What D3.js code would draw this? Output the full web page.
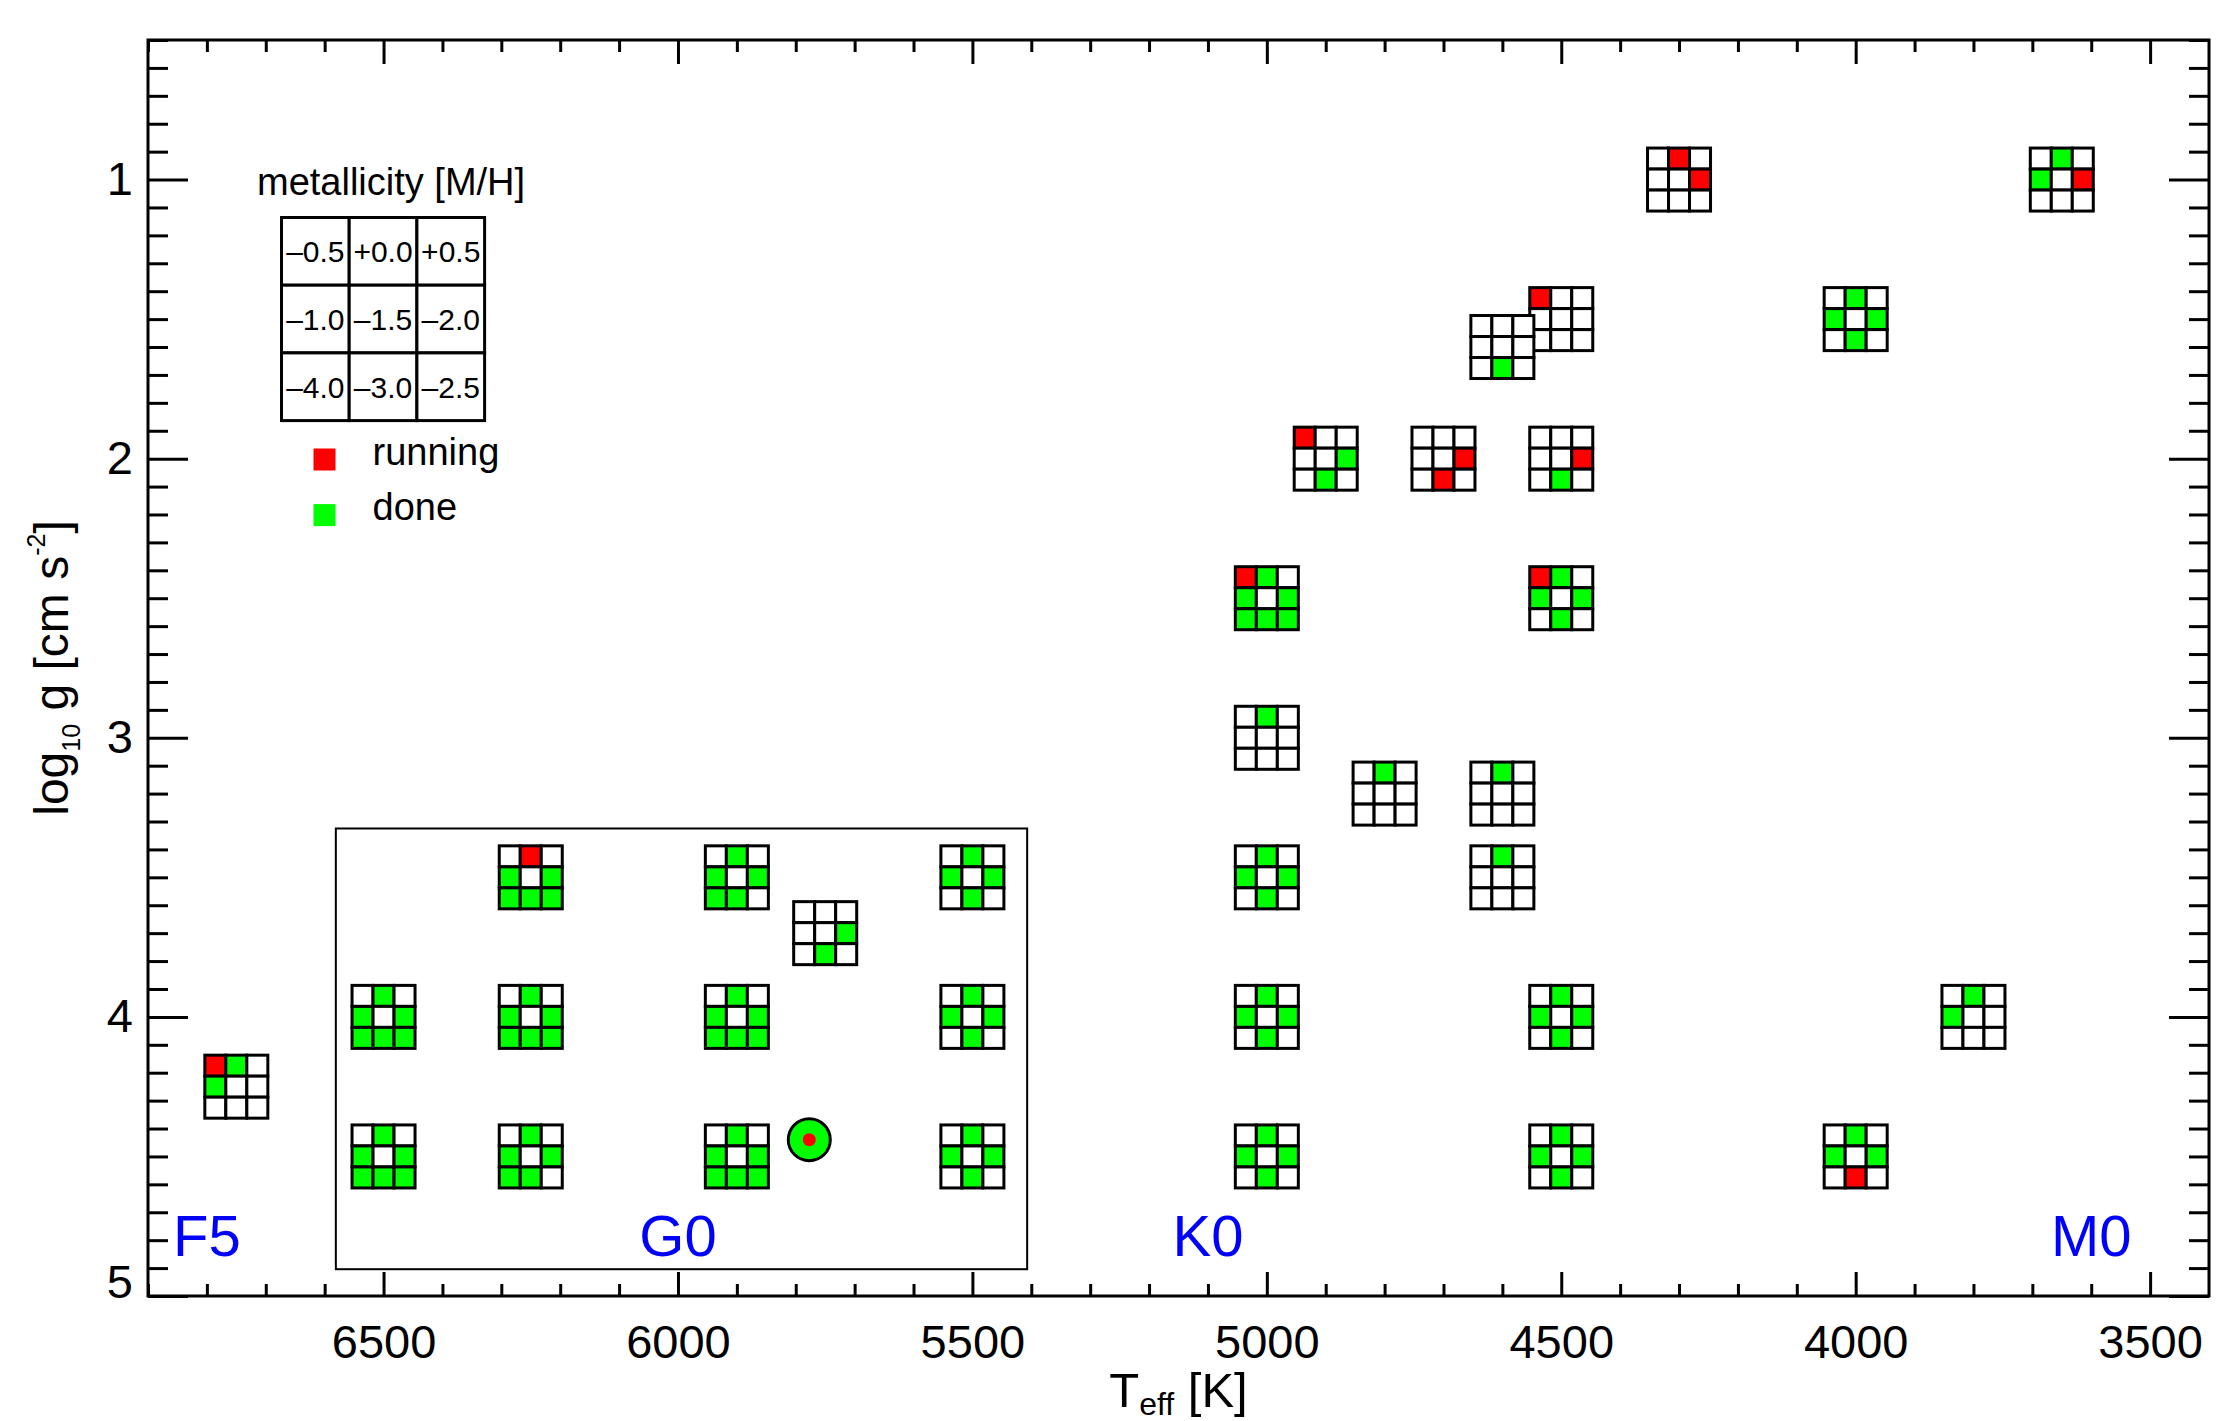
<!DOCTYPE html>
<html>
<head>
<meta charset="utf-8">
<script src="https://cdn.jsdelivr.net/npm/d3@7"></script>
<style>
  body { margin: 0; background: #fff; }
  svg text { font-family: 'Liberation Sans', Arial, Helvetica, sans-serif; }
</style>
</head>
<body>
<div class="chart"></div>
<script>
// tick labels
const teffTicks = [6500, 6000, 5500, 5000, 4500, 4000, 3500]
const loggTicks = [1, 2, 3, 4, 5]
const teffMinor = d3.range(69, 34, -1).map(d => d * 100).filter(d => d % 500 !== 0)
const loggMinor = d3.range(5, 50).map(d => d / 10).filter(d => d % 1 !== 0)

// metallicity key, row by row
const metalGrid = ['–0.5', '+0.0', '+0.5', '–1.0', '–1.5', '–2.0', '–4.0', '–3.0', '–2.5']

// spectral type markers
const specTypes = ['F5', 'G0', 'K0', 'M0']
const specTeff = [6800, 6000, 5100, 3600]

// model grid points: r = running, g = done, . = not started
const modelTeff = [4300, 3650, 4500, 4600, 4000, 4900, 4700, 4500, 5000, 4500,
  5000, 4800, 4600, 5000, 4600, 5000, 4500, 3800, 5000, 4500, 4000, 6750,
  6250, 5900, 5500, 5750, 6500, 6250, 5900, 5500, 6500, 6250, 5900, 5500]
const modelLogg = [1.0, 1.0, 1.5, 1.6, 1.5, 2.0, 2.0, 2.0, 2.5, 2.5,
  3.0, 3.2, 3.2, 3.5, 3.5, 4.0, 4.0, 4.0, 4.5, 4.5, 4.5, 4.25,
  3.5, 3.5, 3.5, 3.7, 4.0, 4.0, 4.0, 4.0, 4.5, 4.5, 4.5, 4.5]
const modelState = ['.r...r...', '.g.g.r...', 'r........', '.......g.', '.g.g.g.g.',
  'r....g.g.', '.....r.r.', '.....r.g.', 'rg.g.gggg', 'rg.g.g.g.',
  '.g.......', '.g.......', '.g.......', '.g.g.g.g.', '.g.......',
  '.g.g.g.g.', '.g.g.g.g.', '.g.g.....', '.g.g.g.g.', '.g.g.g.g.', '.g.g.g.r.', 'rg.g.....',
  '.r.g.gggg', '.g.g.ggg.', '.g.g.g.g.', '.....g.g.',
  '.g.g.gggg', '.g.g.gggg', '.g.g.gggg', '.g.g.g.g.',
  '.g.g.gggg', '.g.g.ggg.', '.g.g.gggg', '.g.g.g.g.']

// the Sun
const sunTeff = [5777]
const sunLogg = [4.44]

// inset frame around the dwarf models
const insetTeff = [6581, 5407]
const insetLogg = [3.325, 4.904]

const width = 2220
const height = 1421
const margin = { left: 148, right: 11, top: 40, bottom: 125 }
const colors = { r: '#ff0000', g: '#00ff00', '.': '#ffffff' }
const cell = 21

var x = d3.scaleLinear()
  .domain([6900, 3400])
  .range([margin.left, width - margin.right])

var y = d3.scaleLinear()
  .domain([0.5, 5])
  .range([margin.top, height - margin.bottom])

const svg = d3.select('.chart')
  .append('svg')
  .attr('width', width)
  .attr('height', height)

function addAxis(axis, transform) {
  var g = svg.append('g')
    .attr('transform', transform)
    .call(axis)
  g.attr('font-size', null).attr('font-family', null)
  g.select('.domain').remove()
  g.selectAll('line').attr('stroke', '#000').attr('stroke-width', 3)
  g.selectAll('text').attr('fill', '#000').style('font-size', '47px')
  return g
}

const bottom = height - margin.bottom
const right = width - margin.right

addAxis(d3.axisBottom(x).tickValues(teffMinor).tickSize(-12).tickFormat(''), 'translate(0,' + bottom + ')')
addAxis(d3.axisBottom(x).tickValues(teffTicks).tickSize(-24).tickPadding(29).tickFormat(d3.format('d')), 'translate(0,' + bottom + ')')
addAxis(d3.axisTop(x).tickValues(teffMinor).tickSize(-12).tickFormat(''), 'translate(0,' + margin.top + ')')
addAxis(d3.axisTop(x).tickValues(teffTicks).tickSize(-24).tickFormat(''), 'translate(0,' + margin.top + ')')
addAxis(d3.axisLeft(y).tickValues(loggMinor).tickSize(-20).tickFormat(''), 'translate(' + margin.left + ',0)')
var yAxis = addAxis(d3.axisLeft(y).tickValues(loggTicks).tickSize(-40).tickPadding(15).tickFormat(d3.format('d')), 'translate(' + margin.left + ',0)')
addAxis(d3.axisRight(y).tickValues(loggMinor).tickSize(-20).tickFormat(''), 'translate(' + right + ',0)')
addAxis(d3.axisRight(y).tickValues(loggTicks).tickSize(-40).tickFormat(''), 'translate(' + right + ',0)')

// the bottom label sits a little above its tick, as in the original
yAxis.selectAll('text').filter(d => d === 5).attr('y', -14)

// plot frame
svg.append('rect')
  .attr('x', margin.left)
  .attr('y', margin.top)
  .attr('width', right - margin.left)
  .attr('height', bottom - margin.top)
  .attr('fill', 'none')
  .attr('stroke', '#000')
  .attr('stroke-width', 3)

// axis titles
var xTitle = svg.append('text')
  .attr('x', (margin.left + right) / 2)
  .attr('y', 1407)
  .attr('text-anchor', 'middle')
  .style('font-size', '49px')
xTitle.append('tspan').text('T')
xTitle.append('tspan').attr('dy', 8).style('font-size', '32px').text('eff')
xTitle.append('tspan').attr('dy', -8).text(' [K]')

var yTitle = svg.append('text')
  .attr('transform', 'translate(68,' + (margin.top + bottom) / 2 + ') rotate(-90)')
  .attr('text-anchor', 'middle')
  .style('font-size', '48px')
yTitle.append('tspan').text('log')
yTitle.append('tspan').attr('dy', 12).style('font-size', '25px').text('10')
yTitle.append('tspan').attr('dy', -12).text(' g [cm s')
yTitle.append('tspan').attr('dy', -23).style('font-size', '25px').text('-2')
yTitle.append('tspan').attr('dy', 23).text(']')

// inset frame
svg.append('rect')
  .attr('x', x(insetTeff[0]))
  .attr('y', y(insetLogg[0]))
  .attr('width', x(insetTeff[1]) - x(insetTeff[0]))
  .attr('height', y(insetLogg[1]) - y(insetLogg[0]))
  .attr('fill', 'none')
  .attr('stroke', '#000')
  .attr('stroke-width', 2)

// spectral type labels
svg.selectAll('.spec')
  .data(specTypes)
  .enter()
  .append('text')
  .attr('class', 'spec')
  .attr('x', (d, i) => x(specTeff[i]))
  .attr('y', y(4.857))
  .attr('text-anchor', 'middle')
  .attr('fill', '#0000ff')
  .style('font-size', '58px')
  .text(d => d)

// model glyphs
var models = modelTeff.map((t, i) => ({ teff: t, logg: modelLogg[i], state: modelState[i] }))

var glyph = svg.selectAll('.model')
  .data(models)
  .enter()
  .append('g')
  .attr('class', 'model')
  .attr('transform', d => 'translate(' + (x(d.teff) - 1.5 * cell) + ',' + (y(d.logg) - 1.5 * cell) + ')')

glyph.selectAll('rect')
  .data(d => d.state.split(''))
  .enter()
  .append('rect')
  .attr('x', (d, i) => (i % 3) * cell)
  .attr('y', (d, i) => Math.floor(i / 3) * cell)
  .attr('width', cell)
  .attr('height', cell)
  .attr('fill', d => colors[d])
  .attr('stroke', '#000')
  .attr('stroke-width', 3)

// sun symbol
svg.append('circle')
  .attr('cx', x(sunTeff[0]))
  .attr('cy', y(sunLogg[0]))
  .attr('r', 21)
  .attr('fill', '#00ff00')
  .attr('stroke', '#000')
  .attr('stroke-width', 3)
svg.append('circle')
  .attr('cx', x(sunTeff[0]))
  .attr('cy', y(sunLogg[0]))
  .attr('r', 6.5)
  .attr('fill', '#ff0000')

// legend
var legend = svg.append('g').attr('transform', 'translate(281.5,217.5)')
const keyCell = 67.7

legend.append('text')
  .attr('x', 1.5 * keyCell + 8)
  .attr('y', -23)
  .attr('text-anchor', 'middle')
  .style('font-size', '38px')
  .text('metallicity [M/H]')

var key = legend.selectAll('.key')
  .data(metalGrid)
  .enter()
  .append('g')
  .attr('class', 'key')
  .attr('transform', (d, i) => 'translate(' + (i % 3) * keyCell + ',' + Math.floor(i / 3) * keyCell + ')')

key.append('rect')
  .attr('width', keyCell)
  .attr('height', keyCell)
  .attr('fill', '#fff')
  .attr('stroke', '#000')
  .attr('stroke-width', 3)

key.append('text')
  .attr('x', keyCell / 2)
  .attr('y', keyCell / 2 + 11)
  .attr('text-anchor', 'middle')
  .style('font-size', '30px')
  .text(d => d)

var statusKey = legend.selectAll('.status')
  .data([['r', 'running'], ['g', 'done']])
  .enter()
  .append('g')
  .attr('class', 'status')
  .attr('transform', (d, i) => 'translate(0,' + (231 + i * 55.6) + ')')

statusKey.append('rect')
  .attr('x', 32)
  .attr('width', 22)
  .attr('height', 22)
  .attr('fill', d => colors[d[0]])

statusKey.append('text')
  .attr('x', 91)
  .attr('y', 16)
  .style('font-size', '38px')
  .text(d => d[1])
</script>
</body>
</html>
